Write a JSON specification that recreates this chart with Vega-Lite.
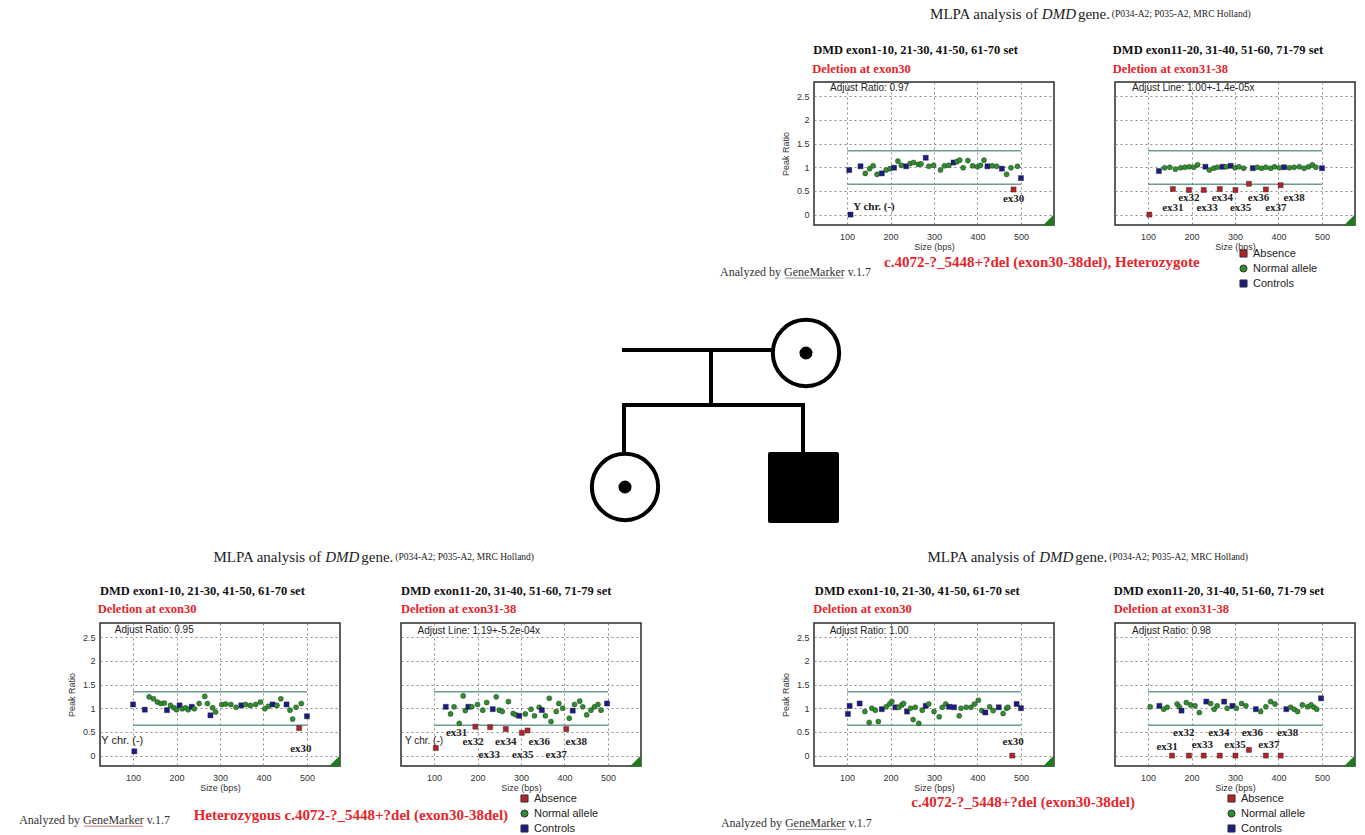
{
"$schema": "https://vega.github.io/schema/vega-lite/v6.json",
"background": "white",
"padding": {"left": 18, "top": 6, "right": 4, "bottom": 0},
"config": {
  "view": {"stroke": null},
  "axis": {"labelFont": "Liberation Sans", "labelFontSize": 9, "labelColor": "#333", "titleFont": "Liberation Sans", "titleFontSize": 9, "titleFontWeight": "normal", "titleColor": "#333", "ticks": false, "domain": false, "grid": true, "gridColor": "#8c8c8c", "gridDash": [2, 3], "gridWidth": 1},
  "text": {"baseline": "middle"}
},
"bounds": "flush",
"columns": 5,
"spacing": {"row": 20, "column": 61},
"resolve": {"scale": {"color": "independent", "shape": "independent"}},
"concat": [
  {"width": 10, "height": 10, "data": {"values": []}, "mark": "point", "encoding": {}},
  {"width": 10, "height": 10, "data": {"values": []}, "mark": "point", "encoding": {}},
  {"width": 10, "height": 10, "data": {"values": []}, "mark": "point", "encoding": {}},
  {
    "width": 240, "height": 143,
    "view": {"stroke": "#2b2b2b", "strokeWidth": 1.5},
    "encoding": {
      "x": {"field": "bp", "type": "quantitative", "scale": {"domain": [24, 576], "nice": false, "zero": false}, "axis": {"values": [100, 200, 300, 400, 500], "title": "Size (bps)", "labelPadding": 7, "titlePadding": 1}},
      "y": {"field": "ratio", "type": "quantitative", "scale": {"domain": [-0.22, 2.8], "nice": false, "zero": false}, "axis": {"values": [0, 0.5, 1, 1.5, 2, 2.5], "format": "~g", "title": "Peak Ratio", "labelPadding": 5, "titlePadding": 6}}
    },
    "layer": [
      {"data": {"values": [{"bp": 100, "bp2": 500, "ratio": 1.35}, {"bp": 100, "bp2": 500, "ratio": 0.64}]},
       "mark": {"type": "rule", "color": "#6b9e90", "strokeWidth": 1.5},
       "encoding": {"x2": {"field": "bp2"}}},
      {"data": {"values": [
        {"bp":108,"ratio":0,"probe":"Controls"},{"bp":105,"ratio":0.94,"probe":"Controls"},{"bp":131,"ratio":1.02,"probe":"Controls"},{"bp":142,"ratio":0.87,"probe":"Normal allele"},{"bp":152,"ratio":0.97,"probe":"Normal allele"},{"bp":160,"ratio":1.03,"probe":"Normal allele"},{"bp":169,"ratio":0.85,"probe":"Normal allele"},{"bp":180,"ratio":0.87,"probe":"Controls"},{"bp":190,"ratio":0.94,"probe":"Normal allele"},{"bp":199,"ratio":0.97,"probe":"Normal allele"},{"bp":208,"ratio":0.99,"probe":"Controls"},{"bp":217,"ratio":1.13,"probe":"Normal allele"},{"bp":225,"ratio":1.04,"probe":"Normal allele"},{"bp":236,"ratio":1.02,"probe":"Controls"},{"bp":245,"ratio":1.08,"probe":"Normal allele"},{"bp":253,"ratio":1.10,"probe":"Normal allele"},{"bp":264,"ratio":1.06,"probe":"Normal allele"},{"bp":270,"ratio":1.07,"probe":"Normal allele"},{"bp":281,"ratio":1.20,"probe":"Controls"},{"bp":288,"ratio":1.02,"probe":"Normal allele"},{"bp":299,"ratio":1.04,"probe":"Normal allele"},{"bp":315,"ratio":0.94,"probe":"Normal allele"},{"bp":324,"ratio":1.03,"probe":"Normal allele"},{"bp":334,"ratio":1.04,"probe":"Normal allele"},{"bp":345,"ratio":1.10,"probe":"Controls"},{"bp":353,"ratio":1.12,"probe":"Normal allele"},{"bp":359,"ratio":1.15,"probe":"Normal allele"},{"bp":367,"ratio":0.99,"probe":"Normal allele"},{"bp":378,"ratio":1.14,"probe":"Normal allele"},{"bp":389,"ratio":1.03,"probe":"Normal allele"},{"bp":400,"ratio":1.01,"probe":"Normal allele"},{"bp":407,"ratio":1.04,"probe":"Normal allele"},{"bp":415,"ratio":1.15,"probe":"Normal allele"},{"bp":423,"ratio":1.02,"probe":"Controls"},{"bp":434,"ratio":1.03,"probe":"Normal allele"},{"bp":444,"ratio":1.02,"probe":"Normal allele"},{"bp":456,"ratio":0.97,"probe":"Controls"},{"bp":467,"ratio":0.85,"probe":"Normal allele"},{"bp":477,"ratio":0.99,"probe":"Normal allele"},{"bp":483,"ratio":0.53,"probe":"Absence"},{"bp":492,"ratio":1.02,"probe":"Normal allele"},{"bp":500,"ratio":0.77,"probe":"Controls"}
       ]},
       "mark": {"type": "point", "filled": true, "size": 26, "opacity": 1, "stroke": "#222", "strokeWidth": 0.4},
       "encoding": {
         "color": {"field": "probe", "type": "nominal", "scale": {"domain": ["Absence", "Normal allele", "Controls"], "range": ["#b4232a", "#2f8f2f", "#1b1b85"]}, "legend": null},
         "shape": {"field": "probe", "type": "nominal", "scale": {"domain": ["Absence", "Normal allele", "Controls"], "range": ["square", "circle", "square"]}, "legend": null}
       }},
      {"data": {"values": [{"bp": 563, "ratio": -0.114}]},
       "mark": {"type": "point", "shape": "M1,-1L1,1L-1,1Z", "filled": true, "color": "#1e7b1e", "size": 121, "opacity": 1}},
      {"data": {"values": [{"t": "ex30", "bp": 483, "ratio": 0.33}]},
       "mark": {"type": "text", "align": "center", "font": "Liberation Serif", "fontSize": 11, "fontWeight": "bold", "color": "#222"},
       "encoding": {"text": {"field": "t"}}},
      {"data": {"values": [{"t": "Y chr. (-)", "bp": 114, "ratio": 0.16}]},
       "mark": {"type": "text", "align": "left", "font": "Liberation Serif", "fontSize": 11, "fontWeight": "bold", "color": "#222"},
       "encoding": {"text": {"field": "t"}}},
      {"data": {"values": [{"t": "Adjust Ratio: 0.97", "bp": 61, "ratio": 2.68}]},
       "mark": {"type": "text", "align": "left", "font": "Liberation Sans", "fontSize": 10, "color": "#222"},
       "encoding": {"text": {"field": "t"}}},
      {"data": {"values": [{"t": "DMD exon1-10, 21-30, 41-50, 61-70 set", "bp": 22, "ratio": 3.476}]},
       "mark": {"type": "text", "align": "left", "font": "Liberation Serif", "fontSize": 12.5, "fontWeight": "bold", "color": "#111"},
       "encoding": {"text": {"field": "t"}}},
      {"data": {"values": [{"t": "Deletion at exon30", "bp": 20, "ratio": 3.075}]},
       "mark": {"type": "text", "align": "left", "font": "Liberation Serif", "fontSize": 12.5, "fontWeight": "bold", "color": "#e3262d"},
       "encoding": {"text": {"field": "t"}}},
      {"data": {"values": [{"t": "MLPA analysis of", "bp": 291, "ratio": 4.236}, {"t": "gene.", "bp": 631, "ratio": 4.236}]},
       "mark": {"type": "text", "align": "left", "font": "Liberation Serif", "fontSize": 15, "color": "#222"},
       "encoding": {"text": {"field": "t"}}},
      {"data": {"values": [{"t": "DMD", "bp": 548, "ratio": 4.236}]},
       "mark": {"type": "text", "align": "left", "font": "Liberation Serif", "fontSize": 15, "fontStyle": "italic", "color": "#222"},
       "encoding": {"text": {"field": "t"}}},
      {"data": {"values": [{"t": "(P034-A2; P035-A2, MRC Holland)", "bp": 709, "ratio": 4.236}]},
       "mark": {"type": "text", "align": "left", "font": "Liberation Serif", "fontSize": 9.5, "color": "#222"},
       "encoding": {"text": {"field": "t"}}},
      {"data": {"values": [{"t": "Analyzed by GeneMarker v.1.7", "bp": -192, "ratio": -1.21}]},
       "mark": {"type": "text", "align": "left", "font": "Liberation Serif", "fontSize": 12, "color": "#333"},
       "encoding": {"text": {"field": "t"}}},
      {"data": {"values": [{"bp": -43, "bp2": 93, "ratio": -1.34}]},
       "mark": {"type": "rule", "color": "#777", "strokeWidth": 0.8},
       "encoding": {"x2": {"field": "bp2"}}},
      {"data": {"values": [{"t": "c.4072-?_5448+?del (exon30-38del), Heterozygote", "bp": 548, "ratio": -1.0}]},
       "mark": {"type": "text", "align": "center", "font": "Liberation Serif", "fontSize": 15, "fontWeight": "bold", "color": "#e3262d"},
       "encoding": {"text": {"field": "t"}}}
    ]
  },
  {
    "width": 240, "height": 143,
    "view": {"stroke": "#2b2b2b", "strokeWidth": 1.5},
    "encoding": {
      "x": {"field": "bp", "type": "quantitative", "scale": {"domain": [24, 576], "nice": false, "zero": false}, "axis": {"values": [100, 200, 300, 400, 500], "title": "Size (bps)", "labelPadding": 7, "titlePadding": 1}},
      "y": {"field": "ratio", "type": "quantitative", "scale": {"domain": [-0.22, 2.8], "nice": false, "zero": false}, "axis": {"values": [0, 0.5, 1, 1.5, 2, 2.5], "labels": false, "title": null}}
    },
    "layer": [
      {"data": {"values": [{"bp": 100, "bp2": 500, "ratio": 1.35}, {"bp": 100, "bp2": 500, "ratio": 0.64}]},
       "mark": {"type": "rule", "color": "#6b9e90", "strokeWidth": 1.5},
       "encoding": {"x2": {"field": "bp2"}}},
      {"data": {"values": [
        {"bp":103,"ratio":0,"probe":"Absence"},{"bp":125,"ratio":0.92,"probe":"Controls"},{"bp":138,"ratio":0.99,"probe":"Normal allele"},{"bp":150,"ratio":1.0,"probe":"Normal allele"},{"bp":163,"ratio":0.96,"probe":"Normal allele"},{"bp":175,"ratio":0.99,"probe":"Normal allele"},{"bp":185,"ratio":1.0,"probe":"Normal allele"},{"bp":195,"ratio":1.01,"probe":"Normal allele"},{"bp":205,"ratio":1.0,"probe":"Normal allele"},{"bp":214,"ratio":1.05,"probe":"Normal allele"},{"bp":232,"ratio":1.01,"probe":"Controls"},{"bp":241,"ratio":0.94,"probe":"Normal allele"},{"bp":251,"ratio":0.98,"probe":"Normal allele"},{"bp":259,"ratio":1.0,"probe":"Normal allele"},{"bp":271,"ratio":1.01,"probe":"Controls"},{"bp":280,"ratio":1.01,"probe":"Normal allele"},{"bp":290,"ratio":1.03,"probe":"Controls"},{"bp":300,"ratio":0.99,"probe":"Normal allele"},{"bp":309,"ratio":1.01,"probe":"Normal allele"},{"bp":320,"ratio":0.98,"probe":"Normal allele"},{"bp":341,"ratio":0.98,"probe":"Controls"},{"bp":351,"ratio":1.0,"probe":"Normal allele"},{"bp":361,"ratio":0.98,"probe":"Normal allele"},{"bp":371,"ratio":1.0,"probe":"Normal allele"},{"bp":382,"ratio":0.98,"probe":"Normal allele"},{"bp":391,"ratio":1.01,"probe":"Normal allele"},{"bp":402,"ratio":0.99,"probe":"Normal allele"},{"bp":413,"ratio":1.0,"probe":"Controls"},{"bp":425,"ratio":0.99,"probe":"Normal allele"},{"bp":436,"ratio":1.0,"probe":"Normal allele"},{"bp":448,"ratio":1.01,"probe":"Normal allele"},{"bp":459,"ratio":0.98,"probe":"Normal allele"},{"bp":469,"ratio":1.01,"probe":"Normal allele"},{"bp":478,"ratio":1.05,"probe":"Normal allele"},{"bp":486,"ratio":1.0,"probe":"Normal allele"},{"bp":500,"ratio":0.98,"probe":"Controls"},
        {"bp":157,"ratio":0.54,"probe":"Absence"},{"bp":194,"ratio":0.52,"probe":"Absence"},{"bp":228,"ratio":0.52,"probe":"Absence"},{"bp":265,"ratio":0.54,"probe":"Absence"},{"bp":301,"ratio":0.52,"probe":"Absence"},{"bp":332,"ratio":0.65,"probe":"Absence"},{"bp":371,"ratio":0.53,"probe":"Absence"},{"bp":405,"ratio":0.62,"probe":"Absence"}
       ]},
       "mark": {"type": "point", "filled": true, "size": 26, "opacity": 1, "stroke": "#222", "strokeWidth": 0.4},
       "encoding": {
         "color": {"field": "probe", "type": "nominal", "scale": {"domain": ["Absence", "Normal allele", "Controls"], "range": ["#b4232a", "#2f8f2f", "#1b1b85"]}, "legend": {"title": null, "orient": "none", "legendX": 123, "legendY": 166, "symbolType": "square", "symbolSize": 50, "labelFont": "Liberation Sans", "labelFontSize": 11, "labelColor": "#222", "rowPadding": 2, "symbolStrokeColor": "#333", "symbolStrokeWidth": 1}},
         "shape": {"field": "probe", "type": "nominal", "scale": {"domain": ["Absence", "Normal allele", "Controls"], "range": ["square", "circle", "square"]}, "legend": null}
       }},
      {"data": {"values": [{"bp": 563, "ratio": -0.114}]},
       "mark": {"type": "point", "shape": "M1,-1L1,1L-1,1Z", "filled": true, "color": "#1e7b1e", "size": 121, "opacity": 1}},
      {"data": {"values": [{"t": "ex31", "bp": 157, "ratio": 0.13}, {"t": "ex32", "bp": 194, "ratio": 0.35}, {"t": "ex33", "bp": 236, "ratio": 0.14}, {"t": "ex34", "bp": 271, "ratio": 0.35}, {"t": "ex35", "bp": 313, "ratio": 0.13}, {"t": "ex36", "bp": 354, "ratio": 0.35}, {"t": "ex37", "bp": 394, "ratio": 0.14}, {"t": "ex38", "bp": 436, "ratio": 0.35}]},
       "mark": {"type": "text", "align": "center", "font": "Liberation Serif", "fontSize": 11, "fontWeight": "bold", "color": "#222"},
       "encoding": {"text": {"field": "t"}}},
      {"data": {"values": [{"t": "Adjust Line: 1.00+-1.4e-05x", "bp": 63, "ratio": 2.67}]},
       "mark": {"type": "text", "align": "left", "font": "Liberation Sans", "fontSize": 10, "color": "#222"},
       "encoding": {"text": {"field": "t"}}},
      {"data": {"values": [{"t": "DMD exon11-20, 31-40, 51-60, 71-79 set", "bp": 19, "ratio": 3.476}]},
       "mark": {"type": "text", "align": "left", "font": "Liberation Serif", "fontSize": 12.5, "fontWeight": "bold", "color": "#111"},
       "encoding": {"text": {"field": "t"}}},
      {"data": {"values": [{"t": "Deletion at exon31-38", "bp": 19, "ratio": 3.075}]},
       "mark": {"type": "text", "align": "left", "font": "Liberation Serif", "fontSize": 12.5, "fontWeight": "bold", "color": "#e3262d"},
       "encoding": {"text": {"field": "t"}}}
    ]
  },
  {"width": 10, "height": 10, "data": {"values": []}, "mark": "point", "encoding": {}},
  {"width": 10, "height": 10, "data": {"values": []}, "mark": "point", "encoding": {}},
  {
    "width": 51, "height": 358,
    "encoding": {
      "x": {"field": "x", "type": "quantitative", "scale": {"domain": [121, 172], "nice": false, "zero": false}, "axis": null},
      "y": {"field": "y", "type": "quantitative", "scale": {"domain": [-60, 298], "nice": false, "zero": false, "reverse": true}, "axis": null}
    },
    "layer": [
      {"data": {"values": [
        {"x": 43, "y": 45, "x2": 190, "y2": 45},
        {"x": 130, "y": 45, "x2": 130, "y2": 100},
        {"x": 43, "y": 100, "x2": 222, "y2": 100},
        {"x": 43, "y": 100, "x2": 43, "y2": 148},
        {"x": 222, "y": 100, "x2": 222, "y2": 148}
       ]},
       "mark": {"type": "rule", "color": "black", "strokeWidth": 4, "strokeCap": "square"},
       "encoding": {"x2": {"field": "x2"}, "y2": {"field": "y2"}}},
      {"data": {"values": [{"x": 225, "y": 48}, {"x": 44, "y": 182}]},
       "mark": {"type": "point", "shape": "circle", "filled": false, "stroke": "black", "strokeWidth": 4, "size": 4400, "opacity": 1}},
      {"data": {"values": [{"x": 225, "y": 48}, {"x": 44, "y": 182}]},
       "mark": {"type": "point", "shape": "circle", "filled": true, "color": "black", "size": 170, "opacity": 1}},
      {"data": {"values": [{"x": 187, "y": 147, "x2": 258, "y2": 218}]},
       "mark": {"type": "rect", "color": "black", "cornerRadius": 2},
       "encoding": {"x2": {"field": "x2"}, "y2": {"field": "y2"}}}
    ]
  },
  {"width": 10, "height": 10, "data": {"values": []}, "mark": "point", "encoding": {}},
  {"width": 10, "height": 10, "data": {"values": []}, "mark": "point", "encoding": {}},
  {
    "width": 240, "height": 143,
    "view": {"stroke": "#2b2b2b", "strokeWidth": 1.5},
    "encoding": {
      "x": {"field": "bp", "type": "quantitative", "scale": {"domain": [24, 576], "nice": false, "zero": false}, "axis": {"values": [100, 200, 300, 400, 500], "title": "Size (bps)", "labelPadding": 7, "titlePadding": 1}},
      "y": {"field": "ratio", "type": "quantitative", "scale": {"domain": [-0.22, 2.8], "nice": false, "zero": false}, "axis": {"values": [0, 0.5, 1, 1.5, 2, 2.5], "format": "~g", "title": "Peak Ratio", "labelPadding": 5, "titlePadding": 6}}
    },
    "layer": [
      {"data": {"values": [{"bp": 100, "bp2": 500, "ratio": 1.35}, {"bp": 100, "bp2": 500, "ratio": 0.64}]},
       "mark": {"type": "rule", "color": "#6b9e90", "strokeWidth": 1.5},
       "encoding": {"x2": {"field": "bp2"}}},
      {"data": {"values": [
        {"bp":103,"ratio":0.09,"probe":"Controls"},{"bp":100,"ratio":1.08,"probe":"Controls"},{"bp":127,"ratio":0.97,"probe":"Controls"},{"bp":137,"ratio":1.24,"probe":"Normal allele"},{"bp":147,"ratio":1.2,"probe":"Normal allele"},{"bp":156,"ratio":1.13,"probe":"Normal allele"},{"bp":164,"ratio":1.10,"probe":"Normal allele"},{"bp":172,"ratio":1.11,"probe":"Normal allele"},{"bp":178,"ratio":0.96,"probe":"Controls"},{"bp":186,"ratio":1.06,"probe":"Normal allele"},{"bp":194,"ratio":1.01,"probe":"Normal allele"},{"bp":200,"ratio":0.97,"probe":"Normal allele"},{"bp":207,"ratio":1.06,"probe":"Controls"},{"bp":213,"ratio":0.99,"probe":"Normal allele"},{"bp":221,"ratio":1.01,"probe":"Normal allele"},{"bp":227,"ratio":0.97,"probe":"Normal allele"},{"bp":235,"ratio":1.03,"probe":"Controls"},{"bp":241,"ratio":0.99,"probe":"Normal allele"},{"bp":252,"ratio":1.10,"probe":"Normal allele"},{"bp":265,"ratio":1.25,"probe":"Normal allele"},{"bp":271,"ratio":1.10,"probe":"Normal allele"},{"bp":278,"ratio":0.85,"probe":"Controls"},{"bp":283,"ratio":1.01,"probe":"Normal allele"},{"bp":290,"ratio":0.92,"probe":"Normal allele"},{"bp":304,"ratio":1.08,"probe":"Normal allele"},{"bp":313,"ratio":1.09,"probe":"Normal allele"},{"bp":325,"ratio":1.08,"probe":"Normal allele"},{"bp":337,"ratio":1.02,"probe":"Normal allele"},{"bp":349,"ratio":1.06,"probe":"Controls"},{"bp":359,"ratio":1.08,"probe":"Normal allele"},{"bp":370,"ratio":1.06,"probe":"Normal allele"},{"bp":382,"ratio":1.08,"probe":"Normal allele"},{"bp":393,"ratio":1.13,"probe":"Normal allele"},{"bp":403,"ratio":0.99,"probe":"Normal allele"},{"bp":411,"ratio":1.04,"probe":"Normal allele"},{"bp":421,"ratio":1.08,"probe":"Controls"},{"bp":431,"ratio":1.06,"probe":"Normal allele"},{"bp":440,"ratio":1.2,"probe":"Normal allele"},{"bp":453,"ratio":1.08,"probe":"Controls"},{"bp":461,"ratio":0.96,"probe":"Normal allele"},{"bp":467,"ratio":0.77,"probe":"Normal allele"},{"bp":475,"ratio":1.02,"probe":"Normal allele"},{"bp":482,"ratio":0.58,"probe":"Absence"},{"bp":487,"ratio":1.10,"probe":"Normal allele"},{"bp":500,"ratio":0.83,"probe":"Controls"}
       ]},
       "mark": {"type": "point", "filled": true, "size": 26, "opacity": 1, "stroke": "#222", "strokeWidth": 0.4},
       "encoding": {
         "color": {"field": "probe", "type": "nominal", "scale": {"domain": ["Absence", "Normal allele", "Controls"], "range": ["#b4232a", "#2f8f2f", "#1b1b85"]}, "legend": null},
         "shape": {"field": "probe", "type": "nominal", "scale": {"domain": ["Absence", "Normal allele", "Controls"], "range": ["square", "circle", "square"]}, "legend": null}
       }},
      {"data": {"values": [{"bp": 563, "ratio": -0.114}]},
       "mark": {"type": "point", "shape": "M1,-1L1,1L-1,1Z", "filled": true, "color": "#1e7b1e", "size": 121, "opacity": 1}},
      {"data": {"values": [{"t": "ex30", "bp": 486, "ratio": 0.14}]},
       "mark": {"type": "text", "align": "center", "font": "Liberation Serif", "fontSize": 11, "fontWeight": "bold", "color": "#222"},
       "encoding": {"text": {"field": "t"}}},
      {"data": {"values": [{"t": "Y chr. (-)", "bp": 27, "ratio": 0.3}]},
       "mark": {"type": "text", "align": "left", "font": "Liberation Sans", "fontSize": 11, "color": "#222"},
       "encoding": {"text": {"field": "t"}}},
      {"data": {"values": [{"t": "Adjust Ratio: 0.95", "bp": 58, "ratio": 2.66}]},
       "mark": {"type": "text", "align": "left", "font": "Liberation Sans", "fontSize": 10, "color": "#222"},
       "encoding": {"text": {"field": "t"}}},
      {"data": {"values": [{"t": "DMD exon1-10, 21-30, 41-50, 61-70 set", "bp": 24, "ratio": 3.476}]},
       "mark": {"type": "text", "align": "left", "font": "Liberation Serif", "fontSize": 12.5, "fontWeight": "bold", "color": "#111"},
       "encoding": {"text": {"field": "t"}}},
      {"data": {"values": [{"t": "Deletion at exon30", "bp": 19, "ratio": 3.096}]},
       "mark": {"type": "text", "align": "left", "font": "Liberation Serif", "fontSize": 12.5, "fontWeight": "bold", "color": "#e3262d"},
       "encoding": {"text": {"field": "t"}}},
      {"data": {"values": [{"t": "MLPA analysis of", "bp": 285, "ratio": 4.194}, {"t": "gene.", "bp": 625, "ratio": 4.194}]},
       "mark": {"type": "text", "align": "left", "font": "Liberation Serif", "fontSize": 15, "color": "#222"},
       "encoding": {"text": {"field": "t"}}},
      {"data": {"values": [{"t": "DMD", "bp": 542, "ratio": 4.194}]},
       "mark": {"type": "text", "align": "left", "font": "Liberation Serif", "fontSize": 15, "fontStyle": "italic", "color": "#222"},
       "encoding": {"text": {"field": "t"}}},
      {"data": {"values": [{"t": "(P034-A2; P035-A2, MRC Holland)", "bp": 703, "ratio": 4.194}]},
       "mark": {"type": "text", "align": "left", "font": "Liberation Serif", "fontSize": 9.5, "color": "#222"},
       "encoding": {"text": {"field": "t"}}},
      {"data": {"values": [{"t": "Analyzed by GeneMarker v.1.7", "bp": -162, "ratio": -1.36}]},
       "mark": {"type": "text", "align": "left", "font": "Liberation Serif", "fontSize": 12, "color": "#333"},
       "encoding": {"text": {"field": "t"}}},
      {"data": {"values": [{"bp": -13, "bp2": 123, "ratio": -1.49}]},
       "mark": {"type": "rule", "color": "#b55", "strokeWidth": 0.8},
       "encoding": {"x2": {"field": "bp2"}}},
      {"data": {"values": [{"t": "Heterozygous c.4072-?_5448+?del (exon30-38del)", "bp": 601, "ratio": -1.26}]},
       "mark": {"type": "text", "align": "center", "font": "Liberation Serif", "fontSize": 15, "fontWeight": "bold", "color": "#e3262d"},
       "encoding": {"text": {"field": "t"}}}
    ]
  },
  {
    "width": 240, "height": 143,
    "view": {"stroke": "#2b2b2b", "strokeWidth": 1.5},
    "encoding": {
      "x": {"field": "bp", "type": "quantitative", "scale": {"domain": [24, 576], "nice": false, "zero": false}, "axis": {"values": [100, 200, 300, 400, 500], "title": "Size (bps)", "labelPadding": 7, "titlePadding": 1}},
      "y": {"field": "ratio", "type": "quantitative", "scale": {"domain": [-0.22, 2.8], "nice": false, "zero": false}, "axis": {"values": [0, 0.5, 1, 1.5, 2, 2.5], "labels": false, "title": null}}
    },
    "layer": [
      {"data": {"values": [{"bp": 100, "bp2": 500, "ratio": 1.35}, {"bp": 100, "bp2": 500, "ratio": 0.64}]},
       "mark": {"type": "rule", "color": "#6b9e90", "strokeWidth": 1.5},
       "encoding": {"x2": {"field": "bp2"}}},
      {"data": {"values": [
        {"bp":104,"ratio":0.16,"probe":"Absence"},{"bp":127,"ratio":1.03,"probe":"Controls"},{"bp":138,"ratio":0.88,"probe":"Normal allele"},{"bp":146,"ratio":1.03,"probe":"Normal allele"},{"bp":158,"ratio":0.68,"probe":"Normal allele"},{"bp":167,"ratio":1.26,"probe":"Normal allele"},{"bp":172,"ratio":0.95,"probe":"Normal allele"},{"bp":179,"ratio":1.03,"probe":"Controls"},{"bp":187,"ratio":1.03,"probe":"Normal allele"},{"bp":195,"ratio":0.61,"probe":"Absence"},{"bp":200,"ratio":1.08,"probe":"Normal allele"},{"bp":212,"ratio":0.96,"probe":"Normal allele"},{"bp":221,"ratio":1.12,"probe":"Normal allele"},{"bp":229,"ratio":0.60,"probe":"Absence"},{"bp":235,"ratio":0.98,"probe":"Controls"},{"bp":243,"ratio":1.24,"probe":"Normal allele"},{"bp":250,"ratio":0.96,"probe":"Normal allele"},{"bp":257,"ratio":0.93,"probe":"Normal allele"},{"bp":265,"ratio":0.56,"probe":"Absence"},{"bp":271,"ratio":1.14,"probe":"Normal allele"},{"bp":282,"ratio":0.89,"probe":"Normal allele"},{"bp":288,"ratio":0.86,"probe":"Normal allele"},{"bp":296,"ratio":0.84,"probe":"Controls"},{"bp":302,"ratio":0.48,"probe":"Absence"},{"bp":310,"ratio":0.88,"probe":"Normal allele"},{"bp":315,"ratio":0.53,"probe":"Absence"},{"bp":323,"ratio":0.98,"probe":"Normal allele"},{"bp":331,"ratio":0.84,"probe":"Normal allele"},{"bp":342,"ratio":1.02,"probe":"Normal allele"},{"bp":348,"ratio":0.96,"probe":"Controls"},{"bp":356,"ratio":0.84,"probe":"Normal allele"},{"bp":365,"ratio":1.21,"probe":"Normal allele"},{"bp":369,"ratio":0.72,"probe":"Normal allele"},{"bp":381,"ratio":0.93,"probe":"Normal allele"},{"bp":387,"ratio":1.10,"probe":"Normal allele"},{"bp":396,"ratio":1.0,"probe":"Normal allele"},{"bp":404,"ratio":0.56,"probe":"Absence"},{"bp":411,"ratio":0.79,"probe":"Normal allele"},{"bp":419,"ratio":0.95,"probe":"Controls"},{"bp":423,"ratio":1.08,"probe":"Normal allele"},{"bp":435,"ratio":1.15,"probe":"Normal allele"},{"bp":442,"ratio":1.03,"probe":"Normal allele"},{"bp":451,"ratio":0.86,"probe":"Normal allele"},{"bp":461,"ratio":0.96,"probe":"Normal allele"},{"bp":469,"ratio":1.03,"probe":"Normal allele"},{"bp":477,"ratio":1.08,"probe":"Normal allele"},{"bp":484,"ratio":0.96,"probe":"Normal allele"},{"bp":498,"ratio":1.10,"probe":"Controls"}
       ]},
       "mark": {"type": "point", "filled": true, "size": 26, "opacity": 1, "stroke": "#222", "strokeWidth": 0.4},
       "encoding": {
         "color": {"field": "probe", "type": "nominal", "scale": {"domain": ["Absence", "Normal allele", "Controls"], "range": ["#b4232a", "#2f8f2f", "#1b1b85"]}, "legend": {"title": null, "orient": "none", "legendX": 118, "legendY": 170, "symbolType": "square", "symbolSize": 50, "labelFont": "Liberation Sans", "labelFontSize": 11, "labelColor": "#222", "rowPadding": 2, "symbolStrokeColor": "#333", "symbolStrokeWidth": 1}},
         "shape": {"field": "probe", "type": "nominal", "scale": {"domain": ["Absence", "Normal allele", "Controls"], "range": ["square", "circle", "square"]}, "legend": null}
       }},
      {"data": {"values": [{"bp": 563, "ratio": -0.114}]},
       "mark": {"type": "point", "shape": "M1,-1L1,1L-1,1Z", "filled": true, "color": "#1e7b1e", "size": 121, "opacity": 1}},
      {"data": {"values": [{"t": "ex31", "bp": 152, "ratio": 0.47}, {"t": "ex32", "bp": 190, "ratio": 0.28}, {"t": "ex33", "bp": 227, "ratio": 0.01}, {"t": "ex34", "bp": 265, "ratio": 0.28}, {"t": "ex35", "bp": 304, "ratio": 0.01}, {"t": "ex36", "bp": 342, "ratio": 0.28}, {"t": "ex37", "bp": 381, "ratio": 0.01}, {"t": "ex38", "bp": 427, "ratio": 0.28}]},
       "mark": {"type": "text", "align": "center", "font": "Liberation Serif", "fontSize": 11, "fontWeight": "bold", "color": "#222"},
       "encoding": {"text": {"field": "t"}}},
      {"data": {"values": [{"t": "Y chr. (-)", "bp": 33, "ratio": 0.3}]},
       "mark": {"type": "text", "align": "left", "font": "Liberation Sans", "fontSize": 10, "color": "#222"},
       "encoding": {"text": {"field": "t"}}},
      {"data": {"values": [{"t": "Adjust Line: 1.19+-5.2e-04x", "bp": 62, "ratio": 2.64}]},
       "mark": {"type": "text", "align": "left", "font": "Liberation Sans", "fontSize": 10, "color": "#222"},
       "encoding": {"text": {"field": "t"}}},
      {"data": {"values": [{"t": "DMD exon11-20, 31-40, 51-60, 71-79 set", "bp": 24, "ratio": 3.476}]},
       "mark": {"type": "text", "align": "left", "font": "Liberation Serif", "fontSize": 12.5, "fontWeight": "bold", "color": "#111"},
       "encoding": {"text": {"field": "t"}}},
      {"data": {"values": [{"t": "Deletion at exon31-38", "bp": 24, "ratio": 3.096}]},
       "mark": {"type": "text", "align": "left", "font": "Liberation Serif", "fontSize": 12.5, "fontWeight": "bold", "color": "#e3262d"},
       "encoding": {"text": {"field": "t"}}}
    ]
  },
  {"width": 10, "height": 10, "data": {"values": []}, "mark": "point", "encoding": {}},
  {
    "width": 240, "height": 143,
    "view": {"stroke": "#2b2b2b", "strokeWidth": 1.5},
    "encoding": {
      "x": {"field": "bp", "type": "quantitative", "scale": {"domain": [24, 576], "nice": false, "zero": false}, "axis": {"values": [100, 200, 300, 400, 500], "title": "Size (bps)", "labelPadding": 7, "titlePadding": 1}},
      "y": {"field": "ratio", "type": "quantitative", "scale": {"domain": [-0.22, 2.8], "nice": false, "zero": false}, "axis": {"values": [0, 0.5, 1, 1.5, 2, 2.5], "format": "~g", "title": "Peak Ratio", "labelPadding": 5, "titlePadding": 6}}
    },
    "layer": [
      {"data": {"values": [{"bp": 100, "bp2": 500, "ratio": 1.35}, {"bp": 100, "bp2": 500, "ratio": 0.64}]},
       "mark": {"type": "rule", "color": "#6b9e90", "strokeWidth": 1.5},
       "encoding": {"x2": {"field": "bp2"}}},
      {"data": {"values": [
        {"bp":102,"ratio":0.88,"probe":"Controls"},{"bp":106,"ratio":1.05,"probe":"Controls"},{"bp":129,"ratio":1.10,"probe":"Controls"},{"bp":141,"ratio":0.93,"probe":"Normal allele"},{"bp":151,"ratio":0.70,"probe":"Normal allele"},{"bp":157,"ratio":1.0,"probe":"Normal allele"},{"bp":165,"ratio":0.96,"probe":"Normal allele"},{"bp":172,"ratio":0.72,"probe":"Normal allele"},{"bp":180,"ratio":0.98,"probe":"Controls"},{"bp":190,"ratio":1.03,"probe":"Normal allele"},{"bp":198,"ratio":1.09,"probe":"Normal allele"},{"bp":203,"ratio":1.14,"probe":"Normal allele"},{"bp":211,"ratio":1.02,"probe":"Controls"},{"bp":219,"ratio":1.02,"probe":"Normal allele"},{"bp":226,"ratio":1.07,"probe":"Normal allele"},{"bp":230,"ratio":1.10,"probe":"Normal allele"},{"bp":238,"ratio":0.93,"probe":"Controls"},{"bp":246,"ratio":1.0,"probe":"Normal allele"},{"bp":252,"ratio":0.76,"probe":"Normal allele"},{"bp":257,"ratio":1.02,"probe":"Normal allele"},{"bp":265,"ratio":0.68,"probe":"Normal allele"},{"bp":273,"ratio":0.96,"probe":"Normal allele"},{"bp":281,"ratio":1.05,"probe":"Controls"},{"bp":288,"ratio":1.09,"probe":"Normal allele"},{"bp":300,"ratio":0.93,"probe":"Normal allele"},{"bp":312,"ratio":0.82,"probe":"Normal allele"},{"bp":319,"ratio":1.02,"probe":"Normal allele"},{"bp":327,"ratio":1.09,"probe":"Normal allele"},{"bp":335,"ratio":1.03,"probe":"Controls"},{"bp":346,"ratio":1.02,"probe":"Controls"},{"bp":358,"ratio":0.84,"probe":"Normal allele"},{"bp":362,"ratio":1.0,"probe":"Normal allele"},{"bp":374,"ratio":1.02,"probe":"Normal allele"},{"bp":385,"ratio":1.02,"probe":"Normal allele"},{"bp":393,"ratio":1.09,"probe":"Normal allele"},{"bp":402,"ratio":1.17,"probe":"Normal allele"},{"bp":410,"ratio":0.95,"probe":"Normal allele"},{"bp":418,"ratio":0.91,"probe":"Controls"},{"bp":428,"ratio":1.03,"probe":"Normal allele"},{"bp":436,"ratio":0.95,"probe":"Normal allele"},{"bp":449,"ratio":1.02,"probe":"Controls"},{"bp":459,"ratio":0.89,"probe":"Normal allele"},{"bp":467,"ratio":1.0,"probe":"Normal allele"},{"bp":470,"ratio":1.02,"probe":"Normal allele"},{"bp":480,"ratio":0.0,"probe":"Absence"},{"bp":490,"ratio":1.09,"probe":"Controls"},{"bp":500,"ratio":1.0,"probe":"Controls"}
       ]},
       "mark": {"type": "point", "filled": true, "size": 26, "opacity": 1, "stroke": "#222", "strokeWidth": 0.4},
       "encoding": {
         "color": {"field": "probe", "type": "nominal", "scale": {"domain": ["Absence", "Normal allele", "Controls"], "range": ["#b4232a", "#2f8f2f", "#1b1b85"]}, "legend": null},
         "shape": {"field": "probe", "type": "nominal", "scale": {"domain": ["Absence", "Normal allele", "Controls"], "range": ["square", "circle", "square"]}, "legend": null}
       }},
      {"data": {"values": [{"bp": 563, "ratio": -0.114}]},
       "mark": {"type": "point", "shape": "M1,-1L1,1L-1,1Z", "filled": true, "color": "#1e7b1e", "size": 121, "opacity": 1}},
      {"data": {"values": [{"t": "ex30", "bp": 482, "ratio": 0.28}]},
       "mark": {"type": "text", "align": "center", "font": "Liberation Serif", "fontSize": 11, "fontWeight": "bold", "color": "#222"},
       "encoding": {"text": {"field": "t"}}},
      {"data": {"values": [{"t": "Adjust Ratio: 1.00", "bp": 60, "ratio": 2.64}]},
       "mark": {"type": "text", "align": "left", "font": "Liberation Sans", "fontSize": 10, "color": "#222"},
       "encoding": {"text": {"field": "t"}}},
      {"data": {"values": [{"t": "DMD exon1-10, 21-30, 41-50, 61-70 set", "bp": 26, "ratio": 3.476}]},
       "mark": {"type": "text", "align": "left", "font": "Liberation Serif", "fontSize": 12.5, "fontWeight": "bold", "color": "#111"},
       "encoding": {"text": {"field": "t"}}},
      {"data": {"values": [{"t": "Deletion at exon30", "bp": 22, "ratio": 3.096}]},
       "mark": {"type": "text", "align": "left", "font": "Liberation Serif", "fontSize": 12.5, "fontWeight": "bold", "color": "#e3262d"},
       "encoding": {"text": {"field": "t"}}},
      {"data": {"values": [{"t": "MLPA analysis of", "bp": 285, "ratio": 4.194}, {"t": "gene.", "bp": 625, "ratio": 4.194}]},
       "mark": {"type": "text", "align": "left", "font": "Liberation Serif", "fontSize": 15, "color": "#222"},
       "encoding": {"text": {"field": "t"}}},
      {"data": {"values": [{"t": "DMD", "bp": 542, "ratio": 4.194}]},
       "mark": {"type": "text", "align": "left", "font": "Liberation Serif", "fontSize": 15, "fontStyle": "italic", "color": "#222"},
       "encoding": {"text": {"field": "t"}}},
      {"data": {"values": [{"t": "(P034-A2; P035-A2, MRC Holland)", "bp": 703, "ratio": 4.194}]},
       "mark": {"type": "text", "align": "left", "font": "Liberation Serif", "fontSize": 9.5, "color": "#222"},
       "encoding": {"text": {"field": "t"}}},
      {"data": {"values": [{"t": "Analyzed by GeneMarker v.1.7", "bp": -190, "ratio": -1.43}]},
       "mark": {"type": "text", "align": "left", "font": "Liberation Serif", "fontSize": 12, "color": "#333"},
       "encoding": {"text": {"field": "t"}}},
      {"data": {"values": [{"bp": -38, "bp2": 98, "ratio": -1.56}]},
       "mark": {"type": "rule", "color": "#777", "strokeWidth": 0.8},
       "encoding": {"x2": {"field": "bp2"}}},
      {"data": {"values": [{"t": "c.4072-?_5448+?del (exon30-38del)", "bp": 505, "ratio": -0.98}]},
       "mark": {"type": "text", "align": "center", "font": "Liberation Serif", "fontSize": 15, "fontWeight": "bold", "color": "#e3262d"},
       "encoding": {"text": {"field": "t"}}}
    ]
  },
  {
    "width": 240, "height": 143,
    "view": {"stroke": "#2b2b2b", "strokeWidth": 1.5},
    "encoding": {
      "x": {"field": "bp", "type": "quantitative", "scale": {"domain": [24, 576], "nice": false, "zero": false}, "axis": {"values": [100, 200, 300, 400, 500], "title": "Size (bps)", "labelPadding": 7, "titlePadding": 1}},
      "y": {"field": "ratio", "type": "quantitative", "scale": {"domain": [-0.22, 2.8], "nice": false, "zero": false}, "axis": {"values": [0, 0.5, 1, 1.5, 2, 2.5], "labels": false, "title": null}}
    },
    "layer": [
      {"data": {"values": [{"bp": 100, "bp2": 500, "ratio": 1.35}, {"bp": 100, "bp2": 500, "ratio": 0.64}]},
       "mark": {"type": "rule", "color": "#6b9e90", "strokeWidth": 1.5},
       "encoding": {"x2": {"field": "bp2"}}},
      {"data": {"values": [
        {"bp":105,"ratio":1.03,"probe":"Normal allele"},{"bp":126,"ratio":1.05,"probe":"Controls"},{"bp":136,"ratio":0.98,"probe":"Normal allele"},{"bp":144,"ratio":1.02,"probe":"Normal allele"},{"bp":155,"ratio":0,"probe":"Absence"},{"bp":167,"ratio":1.09,"probe":"Normal allele"},{"bp":172,"ratio":1.03,"probe":"Normal allele"},{"bp":177,"ratio":0.95,"probe":"Controls"},{"bp":188,"ratio":1.12,"probe":"Normal allele"},{"bp":194,"ratio":0,"probe":"Absence"},{"bp":198,"ratio":1.07,"probe":"Normal allele"},{"bp":208,"ratio":1.05,"probe":"Normal allele"},{"bp":218,"ratio":0.91,"probe":"Normal allele"},{"bp":228,"ratio":0,"probe":"Absence"},{"bp":234,"ratio":1.14,"probe":"Controls"},{"bp":244,"ratio":1.10,"probe":"Normal allele"},{"bp":252,"ratio":0.98,"probe":"Normal allele"},{"bp":259,"ratio":1.05,"probe":"Normal allele"},{"bp":265,"ratio":0,"probe":"Absence"},{"bp":275,"ratio":1.14,"probe":"Controls"},{"bp":282,"ratio":1.0,"probe":"Normal allele"},{"bp":294,"ratio":1.05,"probe":"Controls"},{"bp":301,"ratio":0,"probe":"Absence"},{"bp":303,"ratio":1.0,"probe":"Normal allele"},{"bp":315,"ratio":1.10,"probe":"Normal allele"},{"bp":325,"ratio":1.05,"probe":"Normal allele"},{"bp":332,"ratio":0.12,"probe":"Absence"},{"bp":348,"ratio":0.98,"probe":"Controls"},{"bp":359,"ratio":0.93,"probe":"Normal allele"},{"bp":371,"ratio":1.03,"probe":"Normal allele"},{"bp":371,"ratio":0,"probe":"Absence"},{"bp":382,"ratio":1.14,"probe":"Normal allele"},{"bp":392,"ratio":1.09,"probe":"Normal allele"},{"bp":405,"ratio":0,"probe":"Absence"},{"bp":418,"ratio":0.98,"probe":"Controls"},{"bp":428,"ratio":1.02,"probe":"Normal allele"},{"bp":436,"ratio":0.98,"probe":"Normal allele"},{"bp":444,"ratio":0.93,"probe":"Normal allele"},{"bp":455,"ratio":1.07,"probe":"Normal allele"},{"bp":467,"ratio":1.03,"probe":"Normal allele"},{"bp":475,"ratio":1.07,"probe":"Normal allele"},{"bp":482,"ratio":1.02,"probe":"Normal allele"},{"bp":488,"ratio":0.98,"probe":"Normal allele"},{"bp":498,"ratio":1.21,"probe":"Controls"}
       ]},
       "mark": {"type": "point", "filled": true, "size": 26, "opacity": 1, "stroke": "#222", "strokeWidth": 0.4},
       "encoding": {
         "color": {"field": "probe", "type": "nominal", "scale": {"domain": ["Absence", "Normal allele", "Controls"], "range": ["#b4232a", "#2f8f2f", "#1b1b85"]}, "legend": {"title": null, "orient": "none", "legendX": 111, "legendY": 170, "symbolType": "square", "symbolSize": 50, "labelFont": "Liberation Sans", "labelFontSize": 11, "labelColor": "#222", "rowPadding": 2, "symbolStrokeColor": "#333", "symbolStrokeWidth": 1}},
         "shape": {"field": "probe", "type": "nominal", "scale": {"domain": ["Absence", "Normal allele", "Controls"], "range": ["square", "circle", "square"]}, "legend": null}
       }},
      {"data": {"values": [{"bp": 563, "ratio": -0.114}]},
       "mark": {"type": "point", "shape": "M1,-1L1,1L-1,1Z", "filled": true, "color": "#1e7b1e", "size": 121, "opacity": 1}},
      {"data": {"values": [{"t": "ex31", "bp": 144, "ratio": 0.19}, {"t": "ex32", "bp": 182, "ratio": 0.47}, {"t": "ex33", "bp": 225, "ratio": 0.22}, {"t": "ex34", "bp": 263, "ratio": 0.47}, {"t": "ex35", "bp": 300, "ratio": 0.22}, {"t": "ex36", "bp": 340, "ratio": 0.47}, {"t": "ex37", "bp": 378, "ratio": 0.22}, {"t": "ex38", "bp": 421, "ratio": 0.47}]},
       "mark": {"type": "text", "align": "center", "font": "Liberation Serif", "fontSize": 11, "fontWeight": "bold", "color": "#222"},
       "encoding": {"text": {"field": "t"}}},
      {"data": {"values": [{"t": "Adjust Ratio: 0.98", "bp": 63, "ratio": 2.63}]},
       "mark": {"type": "text", "align": "left", "font": "Liberation Sans", "fontSize": 10, "color": "#222"},
       "encoding": {"text": {"field": "t"}}},
      {"data": {"values": [{"t": "DMD exon11-20, 31-40, 51-60, 71-79 set", "bp": 21, "ratio": 3.476}]},
       "mark": {"type": "text", "align": "left", "font": "Liberation Serif", "fontSize": 12.5, "fontWeight": "bold", "color": "#111"},
       "encoding": {"text": {"field": "t"}}},
      {"data": {"values": [{"t": "Deletion at exon31-38", "bp": 21, "ratio": 3.096}]},
       "mark": {"type": "text", "align": "left", "font": "Liberation Serif", "fontSize": 12.5, "fontWeight": "bold", "color": "#e3262d"},
       "encoding": {"text": {"field": "t"}}}
    ]
  }
]
}
